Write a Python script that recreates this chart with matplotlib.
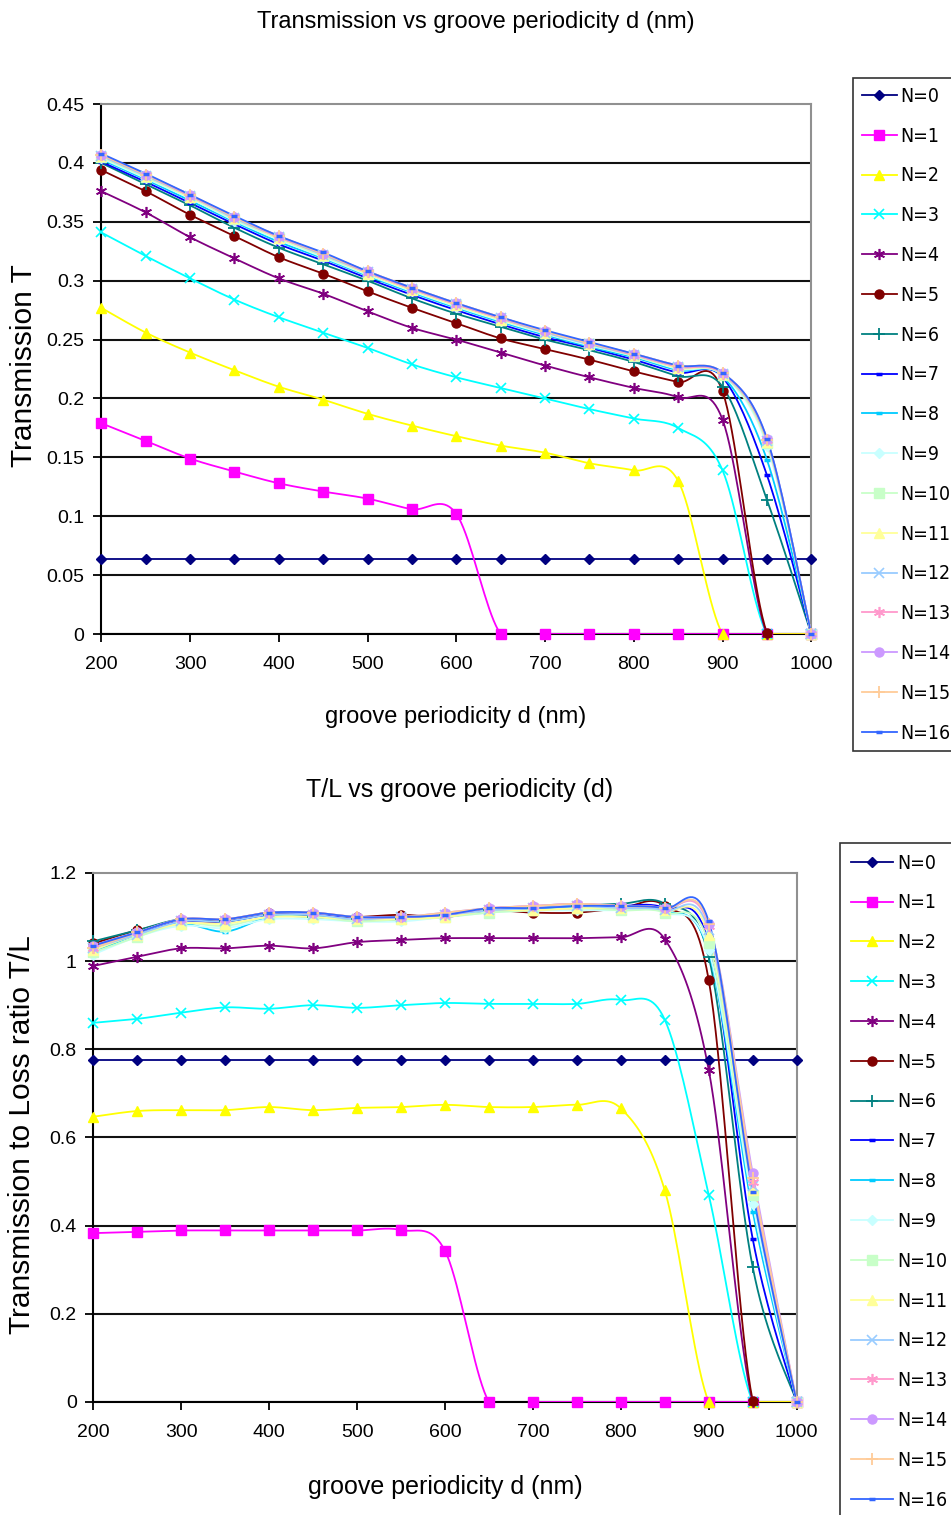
import matplotlib.pyplot as plt
import numpy as np
from matplotlib.lines import Line2D
from matplotlib.ticker import FuncFormatter
from matplotlib.font_manager import FontProperties

plt.rcParams['font.family'] = ['Liberation Sans', 'DejaVu Sans']

# groove periodicity d (nm)
d = [200, 250, 300, 350, 400, 450, 500, 550, 600, 650, 700, 750, 800, 850, 900, 950, 1000]
labels = ['N=0', 'N=1', 'N=2', 'N=3', 'N=4', 'N=5', 'N=6', 'N=7', 'N=8',
          'N=9', 'N=10', 'N=11', 'N=12', 'N=13', 'N=14', 'N=15', 'N=16']

# Transmission T
t_n0 = [0.064, 0.064, 0.064, 0.064, 0.064, 0.064, 0.064, 0.064, 0.064, 0.064, 0.064, 0.064, 0.064, 0.064, 0.064, 0.064, 0.064]
t_n1 = [0.179, 0.164, 0.149, 0.138, 0.128, 0.121, 0.115, 0.106, 0.102, 0, 0, 0, 0, 0, 0, 0, 0]
t_n2 = [0.277, 0.256, 0.239, 0.224, 0.210, 0.199, 0.187, 0.177, 0.168, 0.160, 0.154, 0.145, 0.139, 0.130, 0, 0, 0]
t_n3 = [0.341, 0.321, 0.302, 0.284, 0.269, 0.256, 0.243, 0.229, 0.218, 0.209, 0.200, 0.191, 0.183, 0.175, 0.139, 0, 0]
t_n4 = [0.376, 0.358, 0.337, 0.319, 0.302, 0.289, 0.274, 0.260, 0.250, 0.239, 0.228, 0.218, 0.209, 0.201, 0.182, 0, 0]
t_n5 = [0.394, 0.376, 0.356, 0.338, 0.320, 0.306, 0.291, 0.277, 0.264, 0.251, 0.242, 0.233, 0.223, 0.214, 0.206, 0.001, 0]
t_n6 = [0.400, 0.382, 0.364, 0.345, 0.328, 0.314, 0.300, 0.285, 0.272, 0.261, 0.250, 0.241, 0.231, 0.219, 0.210, 0.114, 0]
t_n7 = [0.401, 0.384, 0.366, 0.348, 0.331, 0.317, 0.302, 0.288, 0.275, 0.263, 0.252, 0.243, 0.233, 0.222, 0.218, 0.135, 0]
t_n8 = [0.403, 0.386, 0.368, 0.350, 0.333, 0.319, 0.304, 0.290, 0.277, 0.265, 0.254, 0.244, 0.235, 0.224, 0.219, 0.148, 0]
t_n9 = [0.404, 0.387, 0.370, 0.351, 0.335, 0.320, 0.305, 0.291, 0.278, 0.266, 0.255, 0.245, 0.236, 0.225, 0.220, 0.160, 0]
t_n10 = [0.405, 0.388, 0.371, 0.352, 0.336, 0.321, 0.306, 0.292, 0.279, 0.267, 0.256, 0.246, 0.236, 0.226, 0.220, 0.162, 0]
t_n11 = [0.406, 0.389, 0.371, 0.353, 0.336, 0.322, 0.306, 0.292, 0.279, 0.267, 0.256, 0.246, 0.237, 0.226, 0.221, 0.163, 0]
t_n12 = [0.406, 0.389, 0.372, 0.353, 0.337, 0.322, 0.307, 0.293, 0.280, 0.268, 0.256, 0.246, 0.237, 0.227, 0.221, 0.164, 0]
t_n13 = [0.407, 0.390, 0.372, 0.354, 0.337, 0.323, 0.307, 0.293, 0.280, 0.268, 0.257, 0.247, 0.237, 0.227, 0.221, 0.165, 0]
t_n14 = [0.407, 0.390, 0.373, 0.354, 0.338, 0.323, 0.308, 0.294, 0.281, 0.269, 0.257, 0.247, 0.238, 0.228, 0.222, 0.166, 0]
t_n15 = [0.407, 0.390, 0.373, 0.354, 0.338, 0.323, 0.308, 0.294, 0.281, 0.269, 0.257, 0.247, 0.238, 0.228, 0.222, 0.165, 0]
t_n16 = [0.408, 0.391, 0.373, 0.355, 0.338, 0.324, 0.308, 0.294, 0.281, 0.269, 0.258, 0.248, 0.238, 0.228, 0.222, 0.166, 0]

# Transmission to loss ratio T/L
tl_n0 = [0.776, 0.776, 0.776, 0.776, 0.776, 0.776, 0.776, 0.776, 0.776, 0.776, 0.776, 0.776, 0.776, 0.776, 0.776, 0.776, 0.776]
tl_n1 = [0.383, 0.386, 0.389, 0.389, 0.389, 0.389, 0.389, 0.390, 0.343, 0, 0, 0, 0, 0, 0, 0, 0]
tl_n2 = [0.647, 0.660, 0.662, 0.662, 0.669, 0.662, 0.667, 0.669, 0.674, 0.669, 0.669, 0.674, 0.666, 0.480, 0, 0, 0]
tl_n3 = [0.860, 0.869, 0.883, 0.895, 0.892, 0.900, 0.894, 0.900, 0.905, 0.903, 0.903, 0.903, 0.912, 0.867, 0.470, 0, 0]
tl_n4 = [0.989, 1.010, 1.029, 1.029, 1.035, 1.029, 1.043, 1.048, 1.052, 1.052, 1.052, 1.052, 1.054, 1.050, 0.753, 0, 0]
tl_n5 = [1.040, 1.070, 1.090, 1.090, 1.110, 1.100, 1.100, 1.105, 1.100, 1.115, 1.110, 1.110, 1.120, 1.125, 0.957, 0.003, 0]
tl_n6 = [1.045, 1.070, 1.095, 1.090, 1.105, 1.100, 1.095, 1.095, 1.105, 1.115, 1.120, 1.125, 1.130, 1.130, 1.010, 0.306, 0]
tl_n7 = [1.035, 1.065, 1.090, 1.090, 1.105, 1.105, 1.100, 1.100, 1.105, 1.115, 1.120, 1.120, 1.125, 1.120, 1.040, 0.370, 0]
tl_n8 = [1.020, 1.060, 1.085, 1.067, 1.100, 1.100, 1.095, 1.095, 1.100, 1.115, 1.120, 1.120, 1.120, 1.115, 1.020, 0.432, 0]
tl_n9 = [1.015, 1.055, 1.080, 1.075, 1.095, 1.095, 1.090, 1.090, 1.100, 1.110, 1.115, 1.115, 1.115, 1.110, 1.025, 0.450, 0]
tl_n10 = [1.020, 1.055, 1.085, 1.080, 1.100, 1.100, 1.090, 1.095, 1.100, 1.110, 1.115, 1.120, 1.115, 1.110, 1.040, 0.470, 0]
tl_n11 = [1.025, 1.060, 1.085, 1.085, 1.100, 1.100, 1.095, 1.095, 1.100, 1.115, 1.115, 1.120, 1.120, 1.115, 1.060, 0.480, 0]
tl_n12 = [1.030, 1.060, 1.090, 1.090, 1.105, 1.105, 1.095, 1.100, 1.105, 1.115, 1.120, 1.125, 1.120, 1.115, 1.070, 0.490, 0]
tl_n13 = [1.030, 1.065, 1.095, 1.095, 1.110, 1.110, 1.100, 1.100, 1.105, 1.120, 1.125, 1.130, 1.125, 1.120, 1.080, 0.500, 0]
tl_n14 = [1.035, 1.065, 1.095, 1.095, 1.110, 1.110, 1.100, 1.100, 1.110, 1.120, 1.125, 1.130, 1.125, 1.120, 1.085, 0.519, 0]
tl_n15 = [1.030, 1.065, 1.095, 1.095, 1.110, 1.110, 1.100, 1.100, 1.110, 1.120, 1.125, 1.130, 1.125, 1.120, 1.085, 0.508, 0]
tl_n16 = [1.035, 1.065, 1.095, 1.095, 1.110, 1.110, 1.100, 1.100, 1.105, 1.120, 1.120, 1.125, 1.125, 1.120, 1.090, 0.476, 0]

trans = [t_n0, t_n1, t_n2, t_n3, t_n4, t_n5, t_n6, t_n7, t_n8,
         t_n9, t_n10, t_n11, t_n12, t_n13, t_n14, t_n15, t_n16]
ratio = [tl_n0, tl_n1, tl_n2, tl_n3, tl_n4, tl_n5, tl_n6, tl_n7, tl_n8,
         tl_n9, tl_n10, tl_n11, tl_n12, tl_n13, tl_n14, tl_n15, tl_n16]

# excel 2003 default series colours and markers
colors = ['#000080', '#FF00FF', '#FFFF00', '#00FFFF', '#800080', '#800000', '#008080', '#0000FF',
          '#00CCFF', '#C8FFFF', '#C8FFC8', '#FFFF99', '#99CCFF', '#FF99CC', '#CC99FF', '#FFCC99', '#3366FF']
ast = (6, 2, 0)
markers = ['D', 's', '^', 'x', ast, 'o', '+', '_', '_', 'D', 's', '^', 'x', ast, 'o', '+', '_']
msizes = [5.5, 6.5, 7, 7, 8, 6.5, 8, 5, 5, 5.5, 6.5, 7, 7, 8, 6.5, 8, 5]
mews = [1, 1, 1, 1.2, 1.2, 1, 1.3, 2.5, 2.5, 1, 1, 1, 1.2, 1.2, 1, 1.3, 2.5]

# condensed face for the legend text
cond = FontProperties(family='DejaVu Sans', stretch='condensed', size=14)


# smoothing like excel (catmull-rom style bezier)
def smooth(x, y, steps=20):
    x = np.asarray(x, float)
    y = np.asarray(y, float)
    px = np.concatenate([[x[0]], x, [x[-1]]])
    py = np.concatenate([[y[0]], y, [y[-1]]])
    t = np.linspace(0, 1, steps)
    xs, ys = [], []
    for i in range(len(x) - 1):
        x0, x1, x2, x3 = px[i], px[i + 1], px[i + 2], px[i + 3]
        y0, y1, y2, y3 = py[i], py[i + 1], py[i + 2], py[i + 3]
        cx1, cy1 = x1 + (x2 - x0) / 6, y1 + (y2 - y0) / 6
        cx2, cy2 = x2 - (x3 - x1) / 6, y2 - (y3 - y1) / 6
        b0 = (1 - t) ** 3
        b1 = 3 * (1 - t) ** 2 * t
        b2 = 3 * (1 - t) * t ** 2
        b3 = t ** 3
        xs.append(b0 * x1 + b1 * cx1 + b2 * cx2 + b3 * x2)
        ys.append(b0 * y1 + b1 * cy1 + b2 * cy2 + b3 * y2)
    return np.concatenate(xs), np.concatenate(ys)


def draw(ax, series, ymax, ystep):
    for i, y in enumerate(series):
        sx, sy = smooth(d, y)
        ax.plot(sx, sy, color=colors[i], lw=1.3, zorder=3 + i * 0.01)
        ax.plot(d, y, ls='none', marker=markers[i], ms=msizes[i], mew=mews[i],
                color=colors[i], mec=colors[i], clip_on=False, zorder=4 + i * 0.01)
    ax.set_xlim(200, 1000)
    ax.set_ylim(0, ymax)
    ax.set_xticks(range(200, 1001, 100))
    ax.set_yticks(np.arange(0, ymax + ystep / 2, ystep))
    ax.yaxis.set_major_formatter(FuncFormatter(lambda v, p: '%g' % round(v, 2)))
    ax.yaxis.grid(True, color='#111111', lw=1.5)
    ax.get_ygridlines()[-1].set_visible(False)
    ax.set_axisbelow(True)
    for s in ['top', 'right']:
        ax.spines[s].set_color('#909090')
        ax.spines[s].set_linewidth(1.5)
    for s in ['left', 'bottom']:
        ax.spines[s].set_color('black')
        ax.spines[s].set_linewidth(1.5)
    ax.tick_params(direction='out', length=6, width=1.3, labelsize=14, colors='black')
    ax.tick_params(axis='x', pad=10)
    ax.tick_params(axis='y', pad=6)


def add_legend(fig, ax, x0, y0, hl, pad):
    handles = [Line2D([], [], color=colors[i], lw=1.3, marker=markers[i], ms=msizes[i],
                      mew=mews[i], mec=colors[i]) for i in range(len(labels))]
    leg = ax.legend(handles, labels, loc='upper left', bbox_to_anchor=(x0, y0),
                    bbox_transform=fig.transFigure, borderaxespad=0, prop=cond,
                    handlelength=hl, handletextpad=0.2, labelspacing=1.07,
                    borderpad=pad, fancybox=False, frameon=True)
    leg.get_frame().set_edgecolor('black')
    leg.get_frame().set_linewidth(1.2)


fig = plt.figure(figsize=(9.51, 15.15), dpi=100)

ax1 = fig.add_axes([0.1065, 0.5815, 0.7466, 0.3498])
draw(ax1, trans, 0.45, 0.05)
add_legend(fig, ax1, 0.897, 0.9485, 1.8, 0.45)

ax2 = fig.add_axes([0.0981, 0.0746, 0.7396, 0.3492])
draw(ax2, ratio, 1.2, 0.2)
add_legend(fig, ax2, 0.8833, 0.4436, 2.2, 0.55)

fig.text(0.5005, 0.9855, 'Transmission vs groove periodicity d (nm)', ha='center', va='center', fontsize=17)
fig.text(0.4795, 0.5267, 'groove periodicity d (nm)', ha='center', va='center', fontsize=17)
fig.text(0.0252, 0.7584, 'Transmission T', ha='center', va='center', rotation=90, fontsize=21.5)

fig.text(0.4837, 0.4785, 'T/L vs groove periodicity (d)', ha='center', va='center', fontsize=18)
fig.text(0.468, 0.0185, 'groove periodicity d (nm)', ha='center', va='center', fontsize=18)
fig.text(0.0231, 0.2508, 'Transmission to Loss ratio T/L', ha='center', va='center', rotation=90, fontsize=21.5)

fig.savefig('out.png', dpi=100)
